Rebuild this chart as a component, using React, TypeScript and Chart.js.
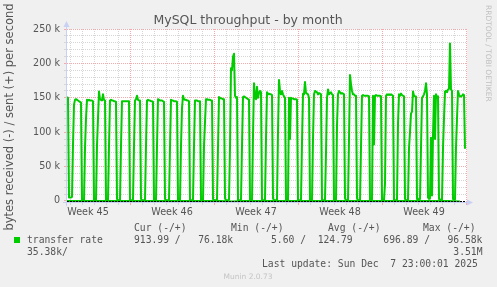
import React, { useEffect, useRef } from 'react';
import { Chart, registerables } from 'chart.js';

Chart.register(...registerables);

// Time axis: hours since Mon 3 Nov 2025 00:00 (start of ISO week 45)
const startHour = 42; // first sample: Tue 4 Nov 18:00
const stepHours = 2;  // one sample every 2 hours

// Bytes sent per second (k), one row per day
const sentK: number[] = [
  151, 150, 5, // Nov 4 (18h-22h)
  5, 5, 6, 82, 140, 147, 148, 147, 146, 145, 144, 143, // Nov 5
  1, 0.5, 1, 77, 120, 147, 146, 147, 146, 146, 146, 145, // Nov 6
  2, 1, 2, 81, 120, 159, 148, 147, 146, 155, 147, 146, // Nov 7
  2, 1, 2, 80, 146, 147, 146, 146, 145, 145, 144, 3, // Nov 8
  1, 1, 2, 80, 145, 145, 145, 145, 145, 145, 145, 145, // Nov 9
  1, 1, 1, 2, 80, 146, 148, 153, 147, 146, 146, 3, // Nov 10
  1, 1, 1, 2, 80, 146, 147, 146, 146, 145, 145, 144, // Nov 11
  1, 1, 2, 80, 148, 147, 146, 146, 146, 145, 144, 3, // Nov 12
  1, 1, 1, 2, 78, 147, 146, 146, 145, 145, 145, 144, // Nov 13
  1, 1, 2, 80, 135, 153, 148, 147, 147, 146, 146, 145, // Nov 14
  1, 1, 1, 2, 80, 146, 146, 146, 145, 145, 145, 2, // Nov 15
  1, 1, 80, 115, 148, 148, 147, 147, 147, 146, 146, 3, // Nov 16
  1, 1, 1, 2, 78, 151, 150, 149, 149, 148, 148, 4, // Nov 17
  1, 1, 1, 2, 78, 193, 190, 210, 214, 153, 150, 151, // Nov 18
  1, 1, 1, 2, 80, 151, 152, 151, 150, 149, 148, 147, // Nov 19
  1, 1, 1, 95, 171, 150, 148, 166, 150, 157, 160, 158, // Nov 20
  1, 1, 1, 2, 90, 158, 155, 156, 155, 155, 154, 4, // Nov 21
  1, 1, 1, 2, 100, 176, 160, 155, 160, 155, 152, 150, // Nov 22
  1, 1, 1, 150, 90, 150, 149, 149, 148, 148, 148, 147, // Nov 23
  1, 1, 1, 2, 85, 156, 155, 173, 157, 156, 155, 150, // Nov 24
  1, 1, 2, 90, 155, 160, 159, 158, 155, 157, 156, 155, // Nov 25
  1, 1, 1, 2, 70, 150, 162, 155, 157, 158, 155, 154, // Nov 26
  1, 1, 2, 110, 155, 160, 158, 156, 157, 156, 155, 4, // Nov 27
  1, 1, 1, 90, 183, 170, 160, 155, 155, 153, 153, 4, // Nov 28
  1, 1, 1, 78, 153, 154, 153, 153, 153, 153, 153, 152, // Nov 29
  1, 1, 2, 153, 82, 153, 154, 153, 153, 153, 153, 152, // Nov 30
  1, 1, 2, 25, 153, 155, 154, 155, 154, 155, 154, 153, // Dec 1
  1, 1, 1, 2, 112, 155, 153, 156, 154, 153, 152, 3, // Dec 2
  1, 1, 2, 77, 100, 127, 130, 159, 153, 152, 152, 3, // Dec 3
  3, 2, 3, 77, 150, 152, 155, 160, 171, 155, 5, 3, // Dec 4
  4, 92, 8, 95, 153, 90, 155, 150, 152, 3, 2, 2, // Dec 5
  2, 77, 120, 159, 160, 158, 162, 163, 229, 162, 160, 3, // Dec 6
  2, 2, 78, 120, 160, 155, 152, 152, 153, 155, 154, 76, // Dec 7
];

// Bytes received per second (drawn negative), one value per day at noon
const receivedHours: number[] = [36, 60, 84, 108, 132, 156, 180, 204, 228, 252, 276, 300, 324, 348, 372, 396, 420, 444, 468, 492, 516, 540, 564, 588, 612, 636, 660, 684, 708, 732, 756, 780, 804, 828];
const receivedB: number[] = [130, 120, 110, 125, 140, 100, 115, 120, 130, 110, 125, 150, 105, 120, 690, 130, 125, 120, 110, 135, 120, 115, 130, 125, 140, 110, 120, 125, 130, 115, 140, 160, 150, 914];

const weekLabels: string[] = ['Week 45', 'Week 46', 'Week 47', 'Week 48', 'Week 49'];
const weekLabelHours: number[] = [84, 252, 420, 588, 756];
const weekStartHours: number[] = [168, 336, 504, 672, 840];
const yGridValues: number[] = [0, 10000, 20000, 30000, 40000, 50000, 60000, 70000, 80000, 90000, 100000, 110000, 120000, 130000, 140000, 150000, 160000, 170000, 180000, 190000, 200000, 210000, 220000, 230000, 240000, 250000];
const yLabelValues: number[] = [0, 50000, 100000, 150000, 200000, 250000];
const yLabelTexts: string[] = ['0', '50 k', '100 k', '150 k', '200 k', '250 k'];

const title = 'MySQL throughput - by month';
const yTitle = 'bytes received (-) / sent (+) per second';
const seriesName = 'transfer rate';
const legendHeaders = ['Cur (-/+)', 'Min (-/+)', 'Avg (-/+)', 'Max (-/+)'];
const legendValues = ['913.99 /   76.18k', '5.60 /  124.79', '696.89 /   96.58k'];
const legendWrap = '35.38k/';
const legendWrapRight = '3.51M';
const lastUpdate = 'Last update: Sun Dec  7 23:00:01 2025';
const watermark = 'Munin 2.0.73';
const sideText = 'RRDTOOL / TOBI OETIKER';

const GREEN = '#00CC00';
const TEXT = '#555555';
const GRID = '#d6d6d6';
const MGRID = '#f4aaaa';
const AXIS = '#c8d0f4';

const dayLineHours: number[] = [];
for (let h = 48; h <= 840; h += 24) dayLineHours.push(h);
const xTickValues = [...dayLineHours, ...weekLabelHours].sort((a, b) => a - b);

const decor = {
  id: 'decor',
  beforeDraw(chart: any) {
    const { ctx, chartArea: a } = chart;
    ctx.save();
    ctx.fillStyle = '#F0F0F0';
    ctx.fillRect(0, 0, chart.width, chart.height);
    ctx.fillStyle = '#FFFFFF';
    ctx.fillRect(a.left, a.top, a.right - a.left, a.bottom - a.top);
    ctx.restore();
  },
  beforeDatasetsDraw(chart: any) {
    const { ctx, chartArea: a } = chart;
    ctx.save();
    ctx.strokeStyle = AXIS;
    ctx.fillStyle = AXIS;
    ctx.lineWidth = 1;
    ctx.beginPath();
    ctx.moveTo(a.left - 0.5, a.bottom + 4);
    ctx.lineTo(a.left - 0.5, a.top - 4);
    ctx.stroke();
    ctx.beginPath();
    ctx.moveTo(a.left - 0.5, a.top - 8);
    ctx.lineTo(a.left - 3.5, a.top - 2);
    ctx.lineTo(a.left + 2.5, a.top - 2);
    ctx.closePath();
    ctx.fill();
    ctx.beginPath();
    ctx.moveTo(a.left - 4, a.bottom + 0.5);
    ctx.lineTo(a.right + 1, a.bottom + 0.5);
    ctx.stroke();
    ctx.beginPath();
    ctx.moveTo(a.right + 6, a.bottom + 0.5);
    ctx.lineTo(a.right, a.bottom - 2.5);
    ctx.lineTo(a.right, a.bottom + 3.5);
    ctx.closePath();
    ctx.fill();
    ctx.restore();
  },
  afterDatasetsDraw(chart: any) {
    const { ctx, chartArea: a, scales } = chart;
    const y0 = Math.round(scales.y.getPixelForValue(0)) + 0.5;
    ctx.save();
    ctx.strokeStyle = '#000000';
    ctx.lineWidth = 1;
    ctx.setLineDash([2, 1]);
    ctx.beginPath();
    ctx.moveTo(a.left, y0);
    ctx.lineTo(a.right - 2, y0);
    ctx.stroke();
    ctx.restore();
  },
  afterDraw(chart: any) {
    const { ctx } = chart;
    ctx.save();
    ctx.fillStyle = TEXT;
    ctx.textBaseline = 'alphabetic';
    ctx.font = '12.5px "DejaVu Sans"';
    ctx.textAlign = 'center';
    ctx.fillText(title, 248, 23.5);
    ctx.save();
    ctx.translate(10, 117);
    ctx.rotate(-Math.PI / 2);
    ctx.font = '11.5px "DejaVu Sans"';
    ctx.textAlign = 'center';
    ctx.textBaseline = 'middle';
    ctx.fillText(yTitle, 0, 0);
    ctx.restore();
    ctx.font = '9.7px "DejaVu Sans Mono"';
    ctx.textAlign = 'left';
    const hx = [134, 231, 328, 423];
    legendHeaders.forEach((t, i) => ctx.fillText(t, hx[i], 230.5));
    ctx.fillStyle = GREEN;
    ctx.fillRect(14, 237, 6, 6);
    ctx.fillStyle = TEXT;
    ctx.fillText(seriesName, 27, 242.7);
    const vx = [134, 271, 383.3];
    legendValues.forEach((t, i) => ctx.fillText(t, vx[i], 242.7));
    ctx.fillText(legendWrap, 27, 254.9);
    ctx.textAlign = 'right';
    ctx.fillText(legendWrapRight, 482.5, 254.9);
    ctx.textAlign = 'left';
    ctx.fillText(lastUpdate, 262, 267);
    ctx.fillStyle = '#c4c4c4';
    ctx.font = '7.5px "DejaVu Sans"';
    ctx.textAlign = 'center';
    ctx.fillText(watermark, 248, 279);
    ctx.save();
    ctx.translate(488, 5);
    ctx.rotate(Math.PI / 2);
    ctx.fillStyle = '#c0c0c0';
    ctx.textAlign = 'left';
    ctx.textBaseline = 'middle';
    ctx.fillText(sideText, 0, 0);
    ctx.restore();
    ctx.restore();
  },
};

export default function App() {
  const ref = useRef<HTMLCanvasElement | null>(null);
  useEffect(() => {
    document.body.style.margin = '0';
    const canvas = ref.current;
    if (!canvas) return;
    const sentPoints = sentK.map((v, i) => ({ x: startHour + i * stepHours, y: v * 1000 }));
    const recvPoints = receivedB.map((v, i) => ({ x: receivedHours[i], y: -v }));
    const chart = new Chart(canvas, {
      type: 'line',
      data: {
        datasets: [
          {
            data: sentPoints,
            borderColor: GREEN,
            borderWidth: 2,
            pointRadius: 0,
            tension: 0,
            fill: false,
            borderJoinStyle: 'round',
          },
          {
            data: recvPoints,
            borderColor: GREEN,
            borderWidth: 2,
            pointRadius: 0,
            tension: 0,
            fill: false,
          },
        ],
      },
      options: {
        animation: false,
        responsive: false,
        events: [],
        layout: { padding: { left: 0, top: 29, right: 30, bottom: 65 } },
        plugins: {
          legend: { display: false },
          tooltip: { enabled: false },
          title: { display: false },
        },
        scales: {
          x: {
            type: 'linear',
            min: 42,
            max: 842,
            afterBuildTicks: (s: any) => {
              s.ticks = xTickValues.map((v) => ({ value: v }));
            },
            afterFit: (s: any) => {
              s.height = 20;
            },
            ticks: {
              autoSkip: false,
              maxRotation: 0,
              minRotation: 0,
              padding: 2,
              color: TEXT,
              font: { family: 'DejaVu Sans', size: 9.6 },
              callback: (v: any) => {
                const i = weekLabelHours.indexOf(Number(v));
                return i >= 0 ? weekLabels[i] : '';
              },
            },
            grid: {
              lineWidth: 1,
              drawTicks: true,
              tickLength: 3,
              tickBorderDash: [],
              color: (c: any) => {
                const v = c.tick ? c.tick.value : 0;
                if (weekLabelHours.includes(v)) return 'rgba(0,0,0,0)';
                return weekStartHours.includes(v) ? MGRID : GRID;
              },
              tickColor: (c: any) => {
                const v = c.tick ? c.tick.value : 0;
                if (weekLabelHours.includes(v)) return 'rgba(0,0,0,0)';
                return weekStartHours.includes(v) ? MGRID : GRID;
              },
            },
            border: { display: false, dash: [1, 1] },
          },
          y: {
            type: 'linear',
            min: -1500,
            max: 250000,
            afterBuildTicks: (s: any) => {
              s.ticks = yGridValues.map((v) => ({ value: v }));
            },
            afterFit: (s: any) => {
              s.width = 67;
            },
            ticks: {
              autoSkip: false,
              padding: 4,
              color: TEXT,
              font: { family: 'DejaVu Sans', size: 9.6 },
              callback: (v: any) => {
                const i = yLabelValues.indexOf(Number(v));
                return i >= 0 ? yLabelTexts[i] : '';
              },
            },
            grid: {
              lineWidth: 1,
              drawTicks: true,
              tickLength: 3,
              tickBorderDash: [],
              color: (c: any) => {
                const v = c.tick ? c.tick.value : 0;
                if (v === 0) return 'rgba(0,0,0,0)';
                return v % 50000 === 0 ? MGRID : GRID;
              },
              tickColor: (c: any) => {
                const v = c.tick ? c.tick.value : 0;
                return v % 50000 === 0 ? MGRID : GRID;
              },
            },
            border: { display: false, dash: [1, 1] },
          },
        },
      },
      plugins: [decor],
    } as any);
    return () => chart.destroy();
  }, []);
  return <canvas ref={ref} width={497} height={287} style={{ display: 'block', width: 497, height: 287 }} />;
}
